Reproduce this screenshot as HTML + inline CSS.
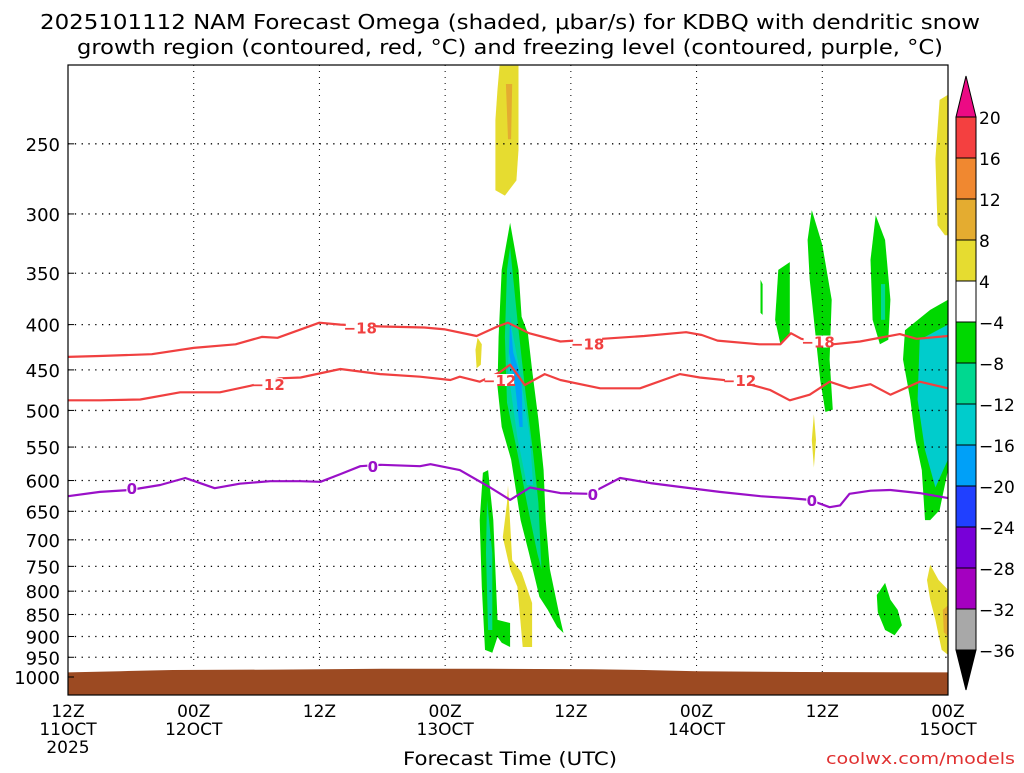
<!DOCTYPE html>
<html><head><meta charset="utf-8"><style>
html,body{margin:0;padding:0;background:#fff;}
svg text{font-family:"DejaVu Sans","Liberation Sans",sans-serif;}
</style></head><body>
<svg id="chart" width="1024" height="768" viewBox="0 0 1024 768" xmlns="http://www.w3.org/2000/svg">
<text x="40" y="29" font-size="20" textLength="940" lengthAdjust="spacingAndGlyphs">2025101112 NAM Forecast Omega (shaded, μbar/s) for KDBQ with dendritic snow</text>
<text x="77" y="54" font-size="20" textLength="866" lengthAdjust="spacingAndGlyphs">growth region (contoured, red, °C) and freezing level (contoured, purple, °C)</text>
<g id="shading"></g>
<g id="grid"></g>
<g id="ground"></g>
<g id="contours"></g>
<rect x="68" y="65" width="880" height="630" fill="none" stroke="#000" stroke-width="1.2"/>
<g id="yaxis"></g>
<g id="xaxis"></g>
<text x="403" y="765" font-size="19" textLength="214" lengthAdjust="spacingAndGlyphs">Forecast Time (UTC)</text>
<text x="826" y="764" font-size="16" fill="#e03030" textLength="189" lengthAdjust="spacingAndGlyphs">coolwx.com/models</text>
<g id="colorbar"></g>
</svg>
<script>
// ---- data ----
const pressureTicks=[250,300,350,400,450,500,550,600,650,700,750,800,850,900,950,1000];
const timeTicks=[0,12,24,36,48,60,72,84];
const timeLabels1=["12Z","00Z","12Z","00Z","12Z","00Z","12Z","00Z"];
const timeLabels2=["11OCT","12OCT","","13OCT","","14OCT","","15OCT"];
const cbLevels=["20","16","12","8","4","−4","−8","−12","−16","−20","−24","−28","−32","−36"];
const cbColors=["#f44040","#f08830","#e4ac30","#e6dc30","#ffffff","#00d800","#00d890","#00cccc","#00a0f8","#2040ff","#7800d8","#a400c0","#a8a8a8"];
const cbTopColor="#ec0a84", cbBottomColor="#000000";

const m18T=[0,3,8,12,16,18.5,20,24,26,30,34,36,39,41,42,44,47,51,55,59,60.5,62,66,68,69,70,73,75.6,79.4,81,84];
const m18P=[435,434,432,425,421,413,414,398,400,402,403,405,412,402,398,409,418,415,412,408,411,417,421,421,409,415,421,418,410,415,412];
const m12T=[0,3.05,6.9,10.7,14.5,17.4,20.2,22.2,26,29.8,33.6,36.5,37.4,39.3,41.2,42.2,43.6,45.5,47,50.8,54.6,58.4,60.3,64.1,67,68.9,70.8,72.7,74.6,76.6,78.5,81.3,84];
const m12P=[487,487,486,477,477,469,460,459,449,455,458,462,458,464,453,444,468,455,462,472,472,455,459,464,474,487,480,464,472,467,480,464,472];
const frzT=[0,3.05,5.9,8.8,11.2,12.6,14.0,16.4,19.3,22.2,24.1,26,27.9,29.8,33.6,34.6,37.4,40.3,42.2,44.1,47,49.8,52.7,55.6,58.4,62.2,66.1,68.9,70.8,72.7,73.7,74.6,76.6,78.5,81.3,84];
const frzP=[625,618,615,607,596,604,612,605,601,601,602,590,578,576,578,575,584,611,631,611,620,621,596,604,610,618,625,628,631,643,640,621,616,615,620,628];
const m18Labels=[[27.9,403],[49.6,420],[71.6,418]];
const m12Labels=[[19.1,467],[41.2,462],[64.1,462]];
const frzLabels=[[6.1,612],[29.1,578],[50.1,621],[71,631]];
const groundT=[0,5,10,20,30,40,50,55,60,70,84];
const groundP=[988,985,982,981,979,979,980,982,985,987,988];

const blobTopYellow=[[41.2,204],[43.0,204],[43.0,254],[42.8,275],[41.7,286],[40.8,282],[40.8,235],[41.0,217]];
const blobTopOrange=[[41.8,214],[42.4,214],[42.3,247],[42.0,247]];
const blobMainGreen=[[42.2,307],[43.0,347],[43.3,392],[43.9,409],[44.3,450],[44.9,512],[45.4,584],[45.6,665],[46.0,756],[47.0,862],[47.3,892],[46.7,878],[45.8,840],[45.0,812],[44.0,725],[43.2,665],[42.3,568],[41.4,522],[41.0,470],[41.1,413],[41.4,347]];
const blobMainTeal=[[42.2,327],[42.9,395],[43.6,470],[44.4,558],[44.9,636],[45.2,756],[44.8,725],[43.8,636],[42.9,558],[41.9,490],[41.7,413],[41.9,347]];
const blobMainCyan=[[42.2,395],[43.1,450],[44.1,536],[44.4,607],[43.8,607],[42.9,536],[42.0,450]];
const blobMainBlue=[[42.2,392],[42.5,430],[43.3,462],[43.4,522],[43.1,522],[42.7,470],[42.1,430]];
const blobLeftGreen=[[39.6,588],[40.1,584],[40.6,665],[41.0,862],[42.2,869],[42.2,925],[41.4,915],[41.0,901],[40.5,939],[39.8,932],[39.5,791],[39.3,665]];
const blobLeftTeal=[[40.0,631],[40.5,725],[40.5,885],[40.1,885],[39.9,725]];
const blobLowYellow=[[42.0,607],[42.4,738],[43.3,762],[44.3,825],[44.3,925],[43.4,925],[42.9,791],[42.2,756],[41.5,695],[41.9,636]];
const blobSmallYellow=[[39.1,414],[39.5,421],[39.4,444],[39.0,448],[38.9,427]];
const blobRightGreenA=[[67.8,347],[68.9,340],[68.9,411],[68.0,421],[67.5,395]];
const blobRightGreenSmall=[[66.1,356],[66.3,360],[66.3,390],[66.1,388]];
const blobRightGreenTall=[[71.0,297],[72.0,325],[72.9,375],[72.7,438],[73.0,499],[72.3,502],[71.8,462],[71.3,406],[70.8,356],[70.6,321]];
const blobRightGreen78=[[77.1,301],[78.0,321],[78.5,375],[78.3,416],[77.5,421],[76.8,395],[76.6,338]];
const blobRightTeal78=[[77.6,360],[78.0,360],[78.0,395],[77.6,395]];
const blobRightYellowSmall=[[71.2,505],[71.4,540],[71.2,580],[71.0,540]];
const blobRightGreenLow=[[78.0,783],[78.5,818],[79.2,840],[79.6,874],[78.9,897],[78.0,885],[77.3,845],[77.2,808]];
const blobEdgeYellowTop=[[83.2,223],[84,220],[84,317],[83.7,317],[83.0,309],[82.8,260]];
const blobEdgeGreen=[[79.9,406],[82.3,385],[84,375],[84,584],[83.2,648],[82.3,665],[81.8,665],[81.5,584],[80.9,540],[80.4,486],[79.7,438]];
const blobEdgeTeal=[[81.3,416],[84,400],[84,568],[82.8,611],[81.8,554],[81.1,486]];
const blobEdgeYellowLow=[[82.3,747],[83.1,777],[84,797],[84,944],[83.4,932],[82.8,862],[82.3,818],[82.0,777]];
const blobEdgeOrange=[[83.5,840],[84,830],[84,900],[83.6,890]];

// ---- axes ----
const X0=68,X1=948,Y1000=677,K=384.6;
const xs=t=>X0+t*(X1-X0)/84;
const ys=p=>Y1000-K*Math.log(1000/p);
const NS="http://www.w3.org/2000/svg";
function mk(tag,parent,attrs){const e=document.createElementNS(NS,tag);for(const k in attrs)e.setAttribute(k,attrs[k]);parent.appendChild(e);return e;}

// shading
const sh=document.getElementById('shading');
const blobs=[
 [blobTopYellow,"#e6dc30","top-yellow"],[blobTopOrange,"#e4ac30","top-orange"],
 [blobMainGreen,"#00d800","main-green"],[blobMainTeal,"#00d890","main-teal"],[blobMainCyan,"#00cccc","main-cyan"],[blobMainBlue,"#00a0f8","main-blue"],
 [blobLeftGreen,"#00d800","left-green"],[blobLeftTeal,"#00d890","left-teal"],[blobLowYellow,"#e6dc30","low-yellow"],[blobSmallYellow,"#e6dc30","small-yellow"],
 [blobRightGreenA,"#00d800","right-green-a"],[blobRightGreenSmall,"#00d800","right-green-small"],[blobRightGreenTall,"#00d800","right-green-tall"],
 [blobRightGreen78,"#00d800","right-green-78"],[blobRightTeal78,"#00d890","right-teal-78"],[blobRightYellowSmall,"#e6dc30","right-yellow-small"],
 [blobRightGreenLow,"#00d800","right-green-low"],[blobEdgeYellowTop,"#e6dc30","edge-yellow-top"],[blobEdgeGreen,"#00d800","edge-green"],
 [blobEdgeTeal,"#00cccc","edge-teal"],[blobEdgeYellowLow,"#e6dc30","edge-yellow-low"],[blobEdgeOrange,"#e4ac30","edge-orange"]];
blobs.forEach(b=>{
 const pts=b[0].map(q=>xs(q[0]).toFixed(1)+","+ys(q[1]).toFixed(1)).join(" ");
 const el=mk('polygon',sh,{points:pts,fill:b[1]});
 
 
});

// grid
const gr=document.getElementById('grid');
pressureTicks.forEach(p=>{
 const el=mk('line',gr,{x1:X0,x2:X1,y1:ys(p),y2:ys(p),stroke:"#000","stroke-width":1.3,"stroke-dasharray":"1.3,5.5"});
 
 
});
timeTicks.slice(1,-1).forEach(t=>{
 const el=mk('line',gr,{x1:xs(t),x2:xs(t),y1:65,y2:695,stroke:"#000","stroke-width":1,"stroke-dasharray":"1,5"});
 
 
});

// ground
const gd=document.getElementById('ground');
let gpts=groundT.map((t,i)=>xs(t).toFixed(1)+","+ys(groundP[i]).toFixed(1));
gpts.push(X1+",695",X0+",695");
const gel=mk('polygon',gd,{points:gpts.join(" "),fill:"#9c4a22"});



// contours
const ct=document.getElementById('contours');
function line(T,P,color,name){
 const d=T.map((t,i)=>(i?"L":"M")+xs(t).toFixed(1)+","+ys(P[i]).toFixed(1)).join("");
 const el=mk('path',ct,{d:d,fill:"none",stroke:color,"stroke-width":2.2,"stroke-linejoin":"round"});
 
 
}
line(m18T,m18P,"#f04040","contour-minus18");
line(m12T,m12P,"#f04040","contour-minus12");
line(frzT,frzP,"#9a10c8","freezing-level-0");
function labels(arr,txt,color,name){
 arr.forEach(a=>{
  const x=xs(a[0]),y=ys(a[1]);
  const w=txt.length*9+2;
  const r=mk('rect',ct,{x:x-w/2,y:y-6,width:w,height:12,fill:"#fff"});
  
  
  const t=mk('text',ct,{x:x,y:y+6,"font-size":15,"font-weight":"bold",fill:color,"text-anchor":"middle"});
  t.textContent=txt;
  
  
 });
}
labels(m18Labels,"−18","#f04040","contour-label-minus18");
labels(m12Labels,"−12","#f04040","contour-label-minus12");
labels(frzLabels,"0","#9a10c8","contour-label-0");

// y axis
const ya=document.getElementById('yaxis');
pressureTicks.forEach(p=>{
 const t=mk('text',ya,{x:60,y:ys(p)+7,"font-size":18,"text-anchor":"end"});
 t.textContent=p;
 
 
 const tk=mk('line',ya,{x1:X0,x2:X0+6,y1:ys(p),y2:ys(p),stroke:"#000"});
 
 
});

// x axis
const xa=document.getElementById('xaxis');
timeTicks.forEach((tt,i)=>{
 const x=xs(tt);
 const a=mk('text',xa,{x:x,y:717,"font-size":17,"text-anchor":"middle"});
 a.textContent=timeLabels1[i];
 
 
 if(timeLabels2[i]){
  const b=mk('text',xa,{x:x,y:735,"font-size":17,"text-anchor":"middle"});
  b.textContent=timeLabels2[i];
  
  
 }
});
const yr=mk('text',xa,{x:xs(0),y:753,"font-size":17,"text-anchor":"middle"});
yr.textContent="2025";



// colorbar
const cb=document.getElementById('colorbar');
const cbX=956,cbW=20,cbTop=117,cbStep=41;
const tri=mk('polygon',cb,{points:`${cbX},${cbTop} ${cbX+cbW},${cbTop} ${cbX+cbW/2},76`,fill:cbTopColor,stroke:"#000"});


cbColors.forEach((c,i)=>{
 const r=mk('rect',cb,{x:cbX,y:cbTop+i*cbStep,width:cbW,height:cbStep,fill:c,stroke:"#000","stroke-width":1});
 
 
});
const bot=cbTop+cbColors.length*cbStep;
const tri2=mk('polygon',cb,{points:`${cbX},${bot} ${cbX+cbW},${bot} ${cbX+cbW/2},690`,fill:cbBottomColor,stroke:"#000"});


cbLevels.forEach((l,i)=>{
 const t=mk('text',cb,{x:979,y:cbTop+i*cbStep+7,"font-size":17});
 t.textContent=l;
 
 
});
</script>
</body></html>
